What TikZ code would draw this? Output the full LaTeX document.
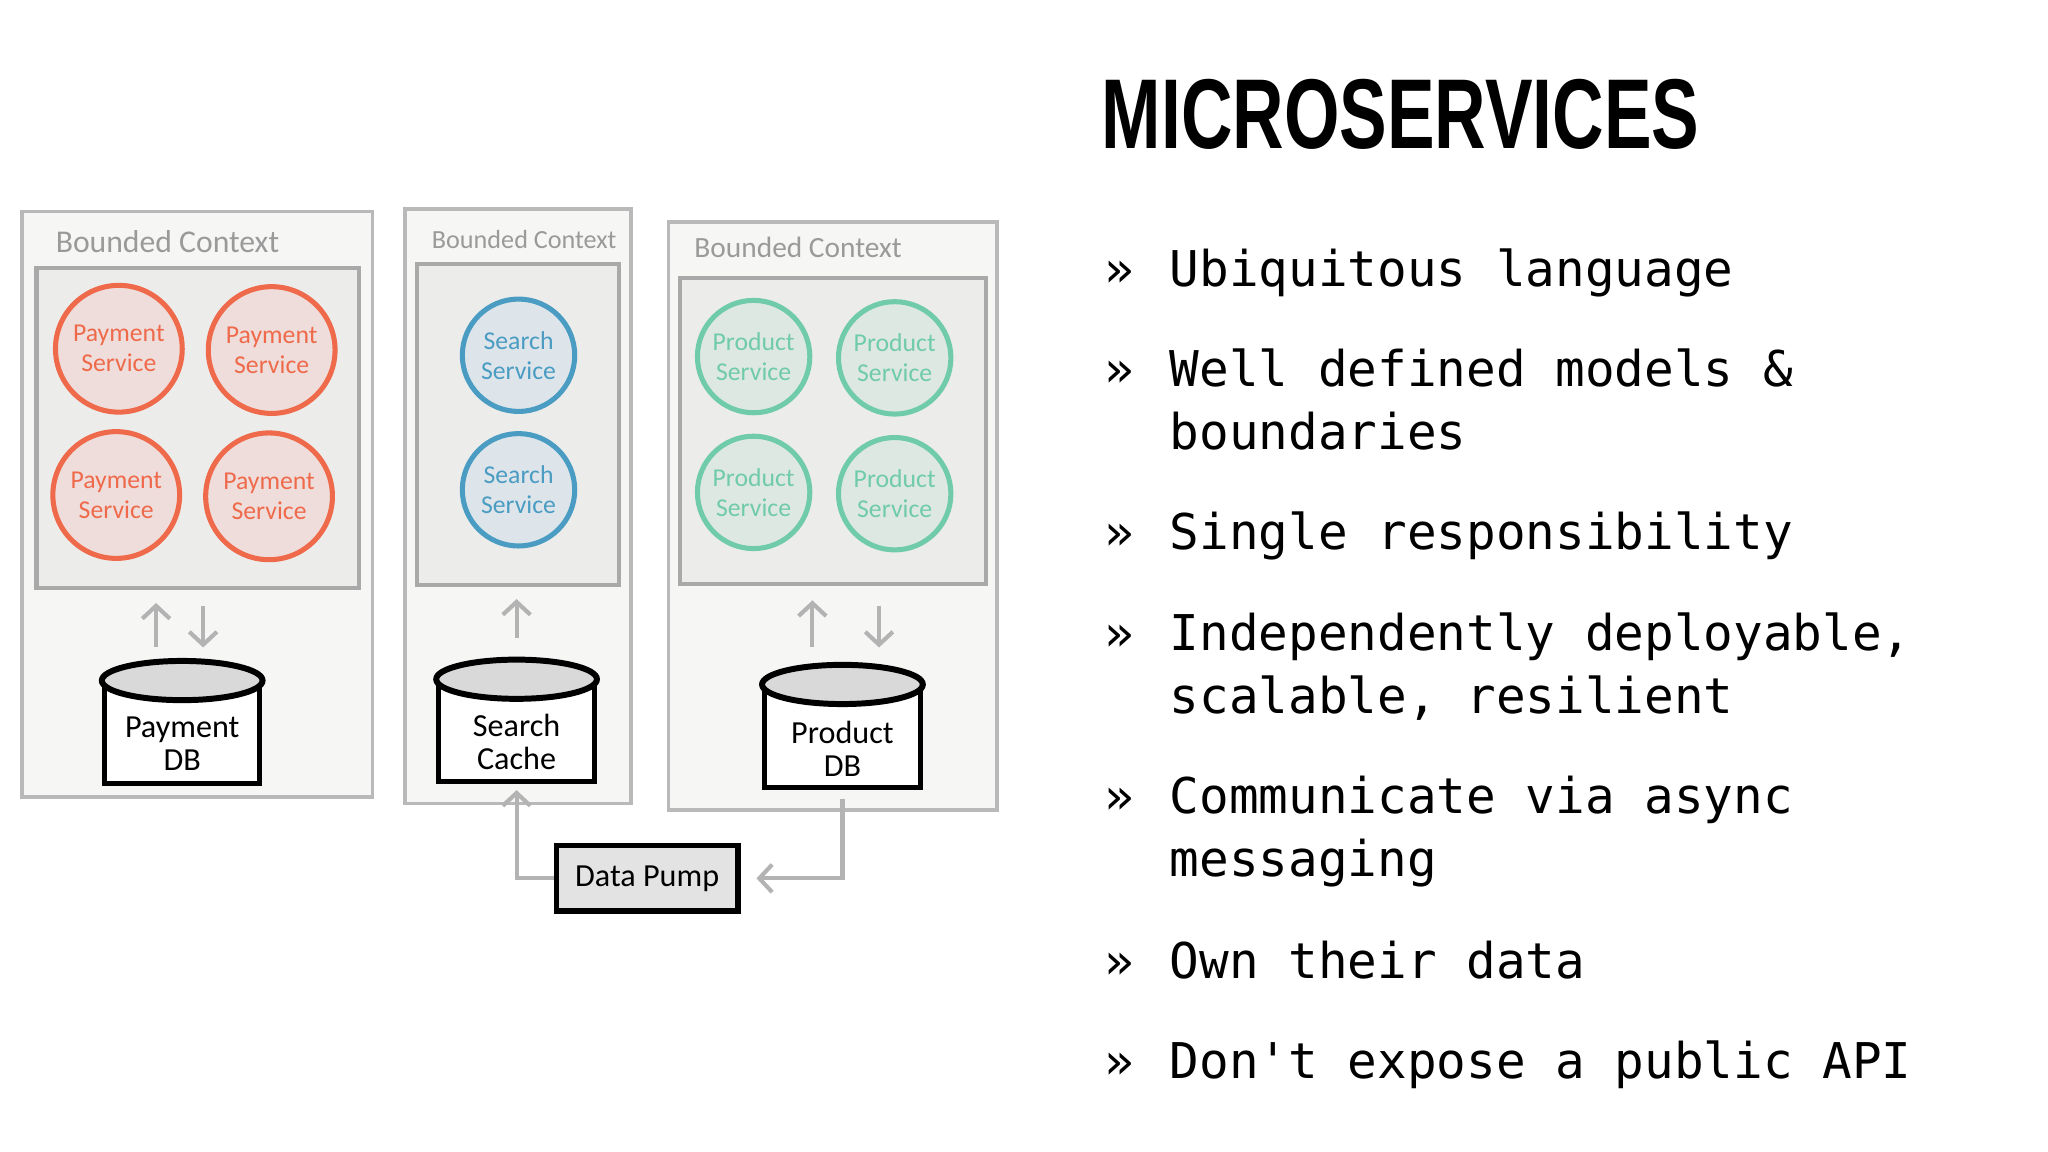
\documentclass[tikz,border=0pt]{standalone}
\usepackage{fontspec}
\usetikzlibrary{arrows.meta, positioning, shapes.geometric}

\newfontfamily\handfont{Carlito}
\newfontfamily\bulletfont{DejaVu Sans Mono}
\newfontfamily\titlefont{Liberation Sans}

\definecolor{ctxfill}{HTML}{F6F6F5}
\definecolor{ctxline}{HTML}{B9B9B9}
\definecolor{infill}{HTML}{ECECEB}
\definecolor{inline}{HTML}{A9A9A9}
\definecolor{labelgray}{HTML}{9A9A9A}
\definecolor{arrowgray}{HTML}{B3B3B3}
\definecolor{payline}{HTML}{EE6A4B}
\definecolor{payfill}{HTML}{EEDDDA}
\definecolor{srchline}{HTML}{4A9CC2}
\definecolor{srchfill}{HTML}{DDE5EA}
\definecolor{prodline}{HTML}{6FCBA9}
\definecolor{prodfill}{HTML}{DDE8E2}
\definecolor{dbfill}{HTML}{D9D9D9}
\definecolor{pumpfill}{HTML}{E3E3E3}

\begin{document}
\begin{tikzpicture}[
x=0.01cm, y=-0.01cm,
ctxbox/.style={
rectangle,
draw=ctxline,
fill=ctxfill,
line width=0.8pt,
inner sep=0pt,
},
innerbox/.style={
rectangle,
draw=inline,
fill=infill,
line width=0.9pt,
inner sep=0pt,
},
ctxlabel/.style={anchor=base west, inner sep=0pt, text=labelgray,
font=\handfont\fontsize{#1}{7}\selectfont},
svc/.style={
circle,
line width=1.1pt,
inner sep=0pt,
minimum size=0.86cm,
align=center,
font=\handfont\fontsize{5.6}{6.5}\selectfont,
},
paysvc/.style={svc, draw=payline, fill=payfill, text=payline, minimum size=0.97cm},
srchsvc/.style={svc, draw=srchline, fill=srchfill, text=srchline},
prodsvc/.style={svc, draw=prodline, fill=prodfill, text=prodline},
dbbody/.style={rectangle, draw=black, fill=white, line width=1.1pt,
inner sep=0pt, minimum width=1.19cm},
dbtop/.style={ellipse, draw=black, fill=dbfill, line width=1.3pt,
inner sep=0pt, minimum width=1.23cm, minimum height=0.30cm},
hand/.style={align=center, inner sep=0pt,
font=\handfont\fontsize{7}{7.2}\selectfont},
flow/.style={draw=arrowgray, line width=0.9pt,
-{Straight Barb[length=2.8pt, width=6pt]}},
chevron/.style={anchor=base west, inner sep=0pt,
font=\bulletfont\fontsize{10.73}{13.66}\selectfont},
bullet/.style={anchor=base west, inner sep=0pt, align=left,
font=\bulletfont\fontsize{10.73}{13.66}\selectfont},
]

\useasboundingbox (0,0) rectangle (1568,882);

% bounded contexts
\node[ctxbox, minimum width=2.68cm, minimum height=4.48cm] (ctx1) at (151,386) {};
\node[ctxbox, minimum width=1.73cm, minimum height=4.55cm] (ctx2) at (396.5,387.5) {};
\node[ctxbox, minimum width=2.51cm, minimum height=4.50cm] (ctx3) at (637.5,395) {};

\node[ctxlabel=6.9] (lbl1) at (42,193) {Bounded Context};
\node[ctxlabel=5.7] (lbl2) at (330,190) {Bounded Context};
\node[ctxlabel=6.4] (lbl3) at (531,197) {Bounded Context};

\node[innerbox, minimum width=2.47cm, minimum height=2.45cm] (in1) at (151.5,327.5) {};
\node[innerbox, minimum width=1.55cm, minimum height=2.46cm] (in2) at (396.5,325) {};
\node[innerbox, minimum width=2.34cm, minimum height=2.34cm] (in3) at (638,330) {};

% services
\node[paysvc] (pay1) at (91,267) {Payment\\Service};
\node[paysvc] (pay2) at (208,268) {Payment\\Service};
\node[paysvc] (pay3) at (89,379) {Payment\\Service};
\node[paysvc] (pay4) at (206,380) {Payment\\Service};

\node[srchsvc] (srch1) at (397,272) {Search\\Service};
\node[srchsvc] (srch2) at (397,375) {Search\\Service};

\node[prodsvc] (prod1) at (577,273) {Product\\Service};
\node[prodsvc] (prod2) at (685,274) {Product\\Service};
\node[prodsvc] (prod3) at (577,377) {Product\\Service};
\node[prodsvc] (prod4) at (685,378) {Product\\Service};

% stores
\node[dbbody, minimum height=0.77cm] (paydb) at (139.5,561.5) {};
\node[dbbody, minimum height=0.76cm] (srchdb) at (395.5,560) {};
\node[dbbody, minimum height=0.77cm] (proddb) at (645,564.5) {};

\node[dbtop] (paytop) at (paydb.north) {};
\node[dbtop] (srchtop) at (srchdb.north) {};
\node[dbtop] (prodtop) at (proddb.north) {};

\node[hand] (paytxt) at ([yshift=-0.08cm]paydb.center) {Payment\\DB};
\node[hand] (srchtxt) at ([yshift=-0.08cm]srchdb.center) {Search\\Cache};
\node[hand] (prodtxt) at ([yshift=-0.09cm]proddb.center) {Product\\DB};

\node[rectangle, draw=black, fill=pumpfill, line width=1.2pt,
minimum width=1.39cm, minimum height=0.50cm, hand] (pump) at (495.5,672.5) {Data Pump};

% reads and writes
\draw[flow, shorten <=0.08cm, shorten >=0.10cm]
([xshift=-0.20cm]paytop.north) -- ([xshift=-0.20cm]paytop.north |- in1.south);
\draw[flow, shorten <=0.12cm, shorten >=0.08cm]
([xshift=0.16cm]paytop.north |- in1.south) -- ([xshift=0.16cm]paytop.north);

\draw[flow, shorten <=0.14cm, shorten >=0.09cm]
(srchtop.north) -- (srchtop.north |- in2.south);

\draw[flow, shorten <=0.11cm, shorten >=0.11cm]
([xshift=-0.23cm]prodtop.north) -- ([xshift=-0.23cm]prodtop.north |- in3.south);
\draw[flow, shorten <=0.15cm, shorten >=0.11cm]
([xshift=0.28cm]prodtop.north |- in3.south) -- ([xshift=0.28cm]prodtop.north);

% data pump
\draw[flow, shorten >=0.05cm] (pump.west) -| (srchdb.south);
\draw[flow, shorten <=0.07cm, shorten >=0.12cm] (proddb.south) |- (pump.east);

% title
\node[anchor=north west, inner sep=0pt] (title) at (843,60)
{\resizebox{4.57cm}{0.53cm}{\titlefont\bfseries MICROSERVICES}};

% list (first baseline / last baseline / text)
\foreach \y/\ly/\txt [count=\i] in {
219/219/{Ubiquitous language},
296/344/{Well defined models \&\\boundaries},
421/421/{Single responsibility},
498/546/{Independently deployable,\\scalable, resilient},
623/671/{Communicate via async\\messaging},
749/749/{Own their data},
826/826/{Don\textquotesingle t expose a public API}%
}
{
\node[chevron] (m\i) at (845,\y) {»};
\node[bullet] (b\i) at (895,\ly) {\txt};
}

\end{tikzpicture}
\end{document}
